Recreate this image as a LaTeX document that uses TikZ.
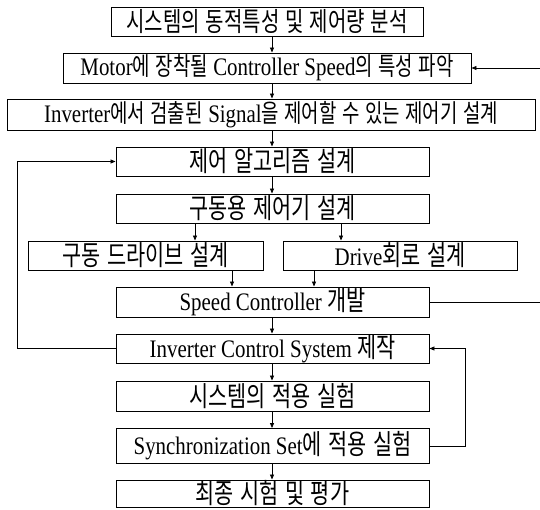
\documentclass[tikz,border=0pt]{standalone}
\usepackage{fontspec}
\setmainfont{Liberation Serif}[FakeStretch=0.83, Scale=1.2]
\newfontfamily\krfont{Noto Sans CJK KR}[FakeStretch=0.75, Scale=1.2, WordSpace=1.3]
\newfontfamily\krfonta{Noto Sans CJK KR}[FakeStretch=0.75, Scale=1.27, WordSpace=1.3]
\newfontfamily\krfontb{Noto Sans CJK KR}[FakeStretch=0.75, Scale=1.32, WordSpace=1.4]
\newcommand\kr[1]{{\krfont #1}}
\newcommand\kra[1]{{\krfonta #1}}
\newcommand\krb[1]{{\krfontb #1}}
\usetikzlibrary{arrows.meta}
\begin{document}
\begin{tikzpicture}[x=1pt,y=-1pt,
  box/.style={draw, line width=0.9pt, inner sep=0pt, font=\fontsize{21}{24}\selectfont},
  arr/.style={-{Triangle[length=5pt,width=4pt]}, line width=0.8pt},
  ln/.style={line width=0.8pt}]
\useasboundingbox (0,0) rectangle (540,510);
\node[box, minimum width=312pt, minimum height=29pt] (b1) at (267,21.5) {\kra{시스템의 동적특성 및 제어량 분석}};
\node[box, minimum width=408pt, minimum height=30pt] (b2) at (267,68) {Motor\kr{에 장착될 }Controller Speed\kr{의 특성 파악}};
\node[box, minimum width=528pt, minimum height=31pt] (b3) at (271,114.5) {Inverter\kr{에서 검출된 }Signal\kr{을 제어할 수 있는 제어기 설계}};
\node[box, minimum width=313pt, minimum height=29pt] (b4) at (272.5,161.5) {\krb{제어 알고리즘 설계}};
\node[box, minimum width=313pt, minimum height=29pt] (b5) at (272.5,208.5) {\krb{구동용 제어기 설계}};
\node[box, minimum width=235pt, minimum height=29pt] (b6) at (145.5,255.5) {\krb{구동 드라이브 설계}};
\node[box, minimum width=234pt, minimum height=29pt] (b7) at (400,255.5) {Drive\krb{회로 설계}};
\node[box, minimum width=313pt, minimum height=30pt] (b8) at (272.5,302) {Speed Controller \krb{개발}};
\node[box, minimum width=313pt, minimum height=29pt] (b9) at (272.5,348.5) {Inverter Control System \krb{제작}};
\node[box, minimum width=313pt, minimum height=30pt] (b10) at (272.5,396) {\krb{시스템의 적용 실험}};
\node[box, minimum width=313pt, minimum height=35pt] (b11) at (272.5,446) {Synchronization Set\krb{에 적용 실험}};
\node[box, minimum width=313pt, minimum height=27pt] (b12) at (272.5,493.5) {\krb{최종 시험 및 평가}};
\coordinate (X) at (272,0);
\coordinate (X1) at (195,0);
\coordinate (X2) at (341,0);
\coordinate (X3) at (232,0);
\coordinate (X4) at (314,0);
\coordinate (L) at (17,0);
\coordinate (R) at (465,0);
\coordinate (in2) at (540,68);
\coordinate (out8) at (540,302);
\draw[arr] (b1.south -| X) -- (b2.north -| X);
\draw[arr] (b2.south -| X) -- (b3.north -| X);
\draw[arr] (b3.south -| X) -- (b4.north -| X);
\draw[arr] (b4.south -| X) -- (b5.north -| X);
\draw[arr] (b5.south -| X1) -- (b6.north -| X1);
\draw[arr] (b5.south -| X2) -- (b7.north -| X2);
\draw[arr] (b6.south -| X3) -- (b8.north -| X3);
\draw[arr] (b7.south -| X4) -- (b8.north -| X4);
\draw[arr] (b8.south -| X) -- (b9.north -| X);
\draw[arr] (b9.south -| X) -- (b10.north -| X);
\draw[arr] (b10.south -| X) -- (b11.north -| X);
\draw[arr] (b11.south -| X) -- (b12.north -| X);
\draw[arr] (b9.west) -- (b9.west -| L) |- (b4.west);
\draw[arr] (b11.east) -- (b11.east -| R) |- (b9.east);
\draw[arr] (in2) -- (b2.east);
\draw[ln] (b8.east) -- (out8);
\end{tikzpicture}
\end{document}
